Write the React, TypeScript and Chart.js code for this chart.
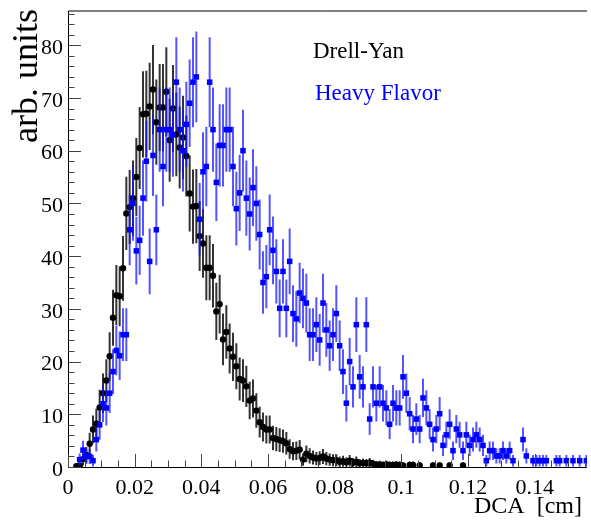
import { useEffect, useRef } from "react";
import { Chart, registerables } from "chart.js";

Chart.register(...registerables);

// Histogram bin width (cm); bin k is centred at (k + 0.5) * BIN_WIDTH
const BIN_WIDTH = 0.001;

// Drell-Yan bin contents (arb. units), bins 0..118
const drellYan = [
  0, 0, 0.13, 0.25, 1.5, 2.3, 4.4, 7.1, 8.2, 11.3,
  14.0, 16.4, 21.0, 28.3, 32.6, 32.4, 37.7, 48.1, 49.3, 51.0,
  55.0, 60.5, 66.9, 67.0, 68.4, 71.6, 65.4, 68.2, 68.2, 71.2,
  62.0, 68.0, 63.1, 60.6, 62.5, 59.0, 51.9, 49.4, 49.5, 43.8,
  42.4, 37.8, 37.8, 36.3, 29.5, 30.9, 24.2, 25.6, 22.5, 20.9,
  19.1, 16.7, 16.4, 15.3, 12.6, 13.0, 10.7, 8.5, 7.6, 7.1,
  7.1, 5.5, 5.3, 5.1, 4.9, 4.5, 3.4, 3.0, 3.1, 3.3,
  1.4, 2.5, 2.1, 1.8, 1.6, 1.7, 2.0, 1.6, 1.4, 1.3,
  1.3, 1.0, 1.1, 0.9, 1.2, 0.8, 1.0, 0.7, 0.75, 0.7,
  0.8, 0.6, 0.45, 0.5, 0.4, 0.5, 0.4, 0.4, 0.45, 0.4,
  0.3, 0, 0.4, 0.4, 0, 0.3, 0, 0, 0, 0.3,
  0, 0.3, 0, 0, 0.3, 0, 0, 0, 0.3,
];

// Heavy Flavor bin contents (arb. units), bins 0..155
const heavyFlavor = [
  0, 0, 0, 1.4, 3.2, 2.0, 2.0, 1.2, 5.2, 8.0,
  12.0, 11.2, 14.0, 18.1, 22.1, 21.1, 25.1, 25.1, 45.0, 50.0,
  41.0, 43.0, 51.0, 58.0, 39.0, 59.1, 45.0, 64.0, 57.0, 64.0,
  64.0, 63.0, 73.0, 64.0, 60.0, 65.0, 69.0, 73.0, 74.0, 47.0,
  56.0, 57.0, 73.0, 64.0, 54.0, 61.0, 61.0, 64.0, 64.0, 57.0,
  49.0, 52.0, 60.0, 51.0, 48.0, 53.0, 50.0, 44.1, 35.0, 36.1,
  45.0, 41.1, 37.1, 30.1, 37.1, 30.1, 39.0, 29.1, 28.1, 33.0,
  32.0, 31.1, 25.1, 25.1, 27.0, 24.1, 31.1, 26.0, 23.0, 25.1,
  29.1, 23.0, 18.1, 12.1, 20.0, 15.2, 27.0, 17.1, 15.2, 27.0,
  9.1, 15.2, 12.1, 15.2, 12.1, 11.2, 8.1, 12.1, 11.2, 11.2,
  17.1, 14.0, 10.1, 7.2, 9.1, 7.2, 13.1, 11.2, 8.1, 5.2,
  7.2, 10.1, 4.1, 6.1, 8.1, 3.1, 7.2, 6.1, 3.1, 6.1,
  4.1, 5.2, 6.1, 5.2, 4.1, 1.2, 3.1, 3.1, 2.1, 2.1,
  3.1, 2.1, 3.1, 1.2, 0, 0, 5.2, 2.1, 0, 1.2,
  1.2, 1.2, 1.2, 1.2, 0, 0, 1.2, 1.2, 0, 1.2,
  0, 1.2, 0, 1.2, 0, 1.2,
];

const xTickValues = [0, 0.02, 0.04, 0.06, 0.08, 0.1, 0.12, 0.14];
const xTickLabels = ["0", "0.02", "0.04", "0.06", "0.08", "0.1", "0.12", "0.14"];
const yTickValues = [0, 10, 20, 30, 40, 50, 60, 70, 80];
const yTickLabels = ["0", "10", "20", "30", "40", "50", "60", "70", "80"];

const X_MAX = 0.1557;
const Y_MAX = 86.5;
const SERIF = '"Liberation Serif", "DejaVu Serif", serif';

function toPoints(values: number[]) {
  const pts: { x: number; y: number }[] = [];
  values.forEach((v, k) => {
    if (v > 0) pts.push({ x: (k + 0.5) * BIN_WIDTH, y: v });
  });
  return pts;
}

const errorBarPlugin = {
  id: "errorBars",
  beforeDatasetDraw(chart: any, args: any) {
    const ds: any = chart.data.datasets[args.index];
    const ys = chart.scales.y;
    const ctx = chart.ctx;
    const area = chart.chartArea;
    ctx.save();
    ctx.beginPath();
    ctx.rect(area.left, area.top, area.right - area.left, area.bottom - area.top);
    ctx.clip();
    ctx.strokeStyle = ds.errColor;
    ctx.lineWidth = ds.errWidth;
    ctx.beginPath();
    args.meta.data.forEach((el: any, i: number) => {
      const d = ds.data[i];
      const e = Math.sqrt(d.y);
      ctx.moveTo(el.x, ys.getPixelForValue(d.y + e));
      ctx.lineTo(el.x, ys.getPixelForValue(Math.max(0, d.y - e)));
    });
    ctx.stroke();
    ctx.restore();
  },
};

const axesPlugin = {
  id: "rootAxes",
  afterDraw(chart: any) {
    const ctx = chart.ctx;
    const xs = chart.scales.x;
    const ys = chart.scales.y;
    const a = chart.chartArea;
    ctx.save();

    // frame
    ctx.strokeStyle = "#000";
    ctx.lineWidth = 1;
    ctx.beginPath();
    ctx.moveTo(a.right, a.top);
    ctx.lineTo(a.left + 0.5, a.top);
    ctx.lineTo(a.left + 0.5, a.bottom + 0.5);
    ctx.lineTo(a.right, a.bottom + 0.5);
    ctx.stroke();

    // y ticks (inward)
    ctx.lineWidth = 1;
    ctx.strokeStyle = "#444";
    ctx.beginPath();
    for (let v = 0; v <= Y_MAX; v += 2) {
      const py = Math.round(ys.getPixelForValue(v)) + 0.5;
      const len = v % 10 === 0 ? 13 : 6.5;
      ctx.moveTo(a.left, py);
      ctx.lineTo(a.left + len, py);
    }
    ctx.stroke();

    // x ticks (inward)
    ctx.beginPath();
    for (let i = 0; i * 0.005 <= X_MAX; i++) {
      const v = i * 0.005;
      const px = Math.round(xs.getPixelForValue(v)) + 0.5;
      const len = i % 4 === 0 ? 13 : 6.5;
      ctx.moveTo(px, a.bottom);
      ctx.lineTo(px, a.bottom - len);
    }
    ctx.stroke();

    // tick labels
    ctx.fillStyle = "#000";
    ctx.font = `22px ${SERIF}`;
    ctx.textAlign = "right";
    ctx.textBaseline = "middle";
    yTickValues.forEach((v, i) => {
      ctx.fillText(yTickLabels[i], a.left - 5, ys.getPixelForValue(v) + 3);
    });
    ctx.textAlign = "center";
    xTickValues.forEach((v, i) => {
      ctx.fillText(xTickLabels[i], xs.getPixelForValue(v), a.bottom + 21);
    });

    // axis titles
    ctx.font = `24px ${SERIF}`;
    ctx.textAlign = "right";
    ctx.textBaseline = "alphabetic";
    ctx.fillText("DCA  [cm]", a.right - 5, a.bottom + 46);

    ctx.save();
    ctx.translate(37, 9);
    ctx.rotate(-Math.PI / 2);
    ctx.font = `36px ${SERIF}`;
    ctx.textAlign = "right";
    ctx.fillText("arb. units", 0, 0);
    ctx.restore();

    // legend texts
    ctx.font = `23px ${SERIF}`;
    ctx.textAlign = "left";
    ctx.fillStyle = "#000";
    ctx.fillText("Drell-Yan", 313, 58);
    ctx.fillStyle = "#0000ff";
    ctx.fillText("Heavy Flavor", 315, 100);

    ctx.restore();
  },
};

export default function App() {
  const ref = useRef<HTMLCanvasElement | null>(null);

  useEffect(() => {
    if (!ref.current) return;
    const chart = new Chart(ref.current, {
      type: "scatter",
      data: {
        datasets: [
          {
            label: "Drell-Yan",
            data: toPoints(drellYan),
            pointStyle: "circle",
            pointRadius: 3.2,
            pointBorderWidth: 0,
            backgroundColor: "#000",
            borderColor: "#000",
            errColor: "rgba(0,0,0,0.8)",
            errWidth: 2,
            order: 2,
          } as any,
          {
            label: "Heavy Flavor",
            data: toPoints(heavyFlavor),
            pointStyle: "rect",
            pointRadius: 3.9,
            pointBorderWidth: 0,
            backgroundColor: "#0000ff",
            borderColor: "#0000ff",
            errColor: "rgba(20,20,255,0.72)",
            errWidth: 2,
            order: 1,
          } as any,
        ],
      },
      options: {
        responsive: false,
        animation: false,
        devicePixelRatio: 1,
        layout: { padding: { left: 68, top: 11, right: 0, bottom: 55 } },
        scales: {
          x: { type: "linear", min: 0, max: X_MAX, display: false },
          y: { type: "linear", min: 0, max: Y_MAX, display: false },
        },
        plugins: {
          legend: { display: false },
          tooltip: { enabled: false },
        },
        events: [],
      },
      plugins: [errorBarPlugin, axesPlugin],
    });
    return () => chart.destroy();
  }, []);

  return (
    <div style={{ position: "absolute", left: 0, top: 0, width: 591, height: 522, background: "#fff" }}>
      <canvas ref={ref} width={591} height={522} />
    </div>
  );
}
